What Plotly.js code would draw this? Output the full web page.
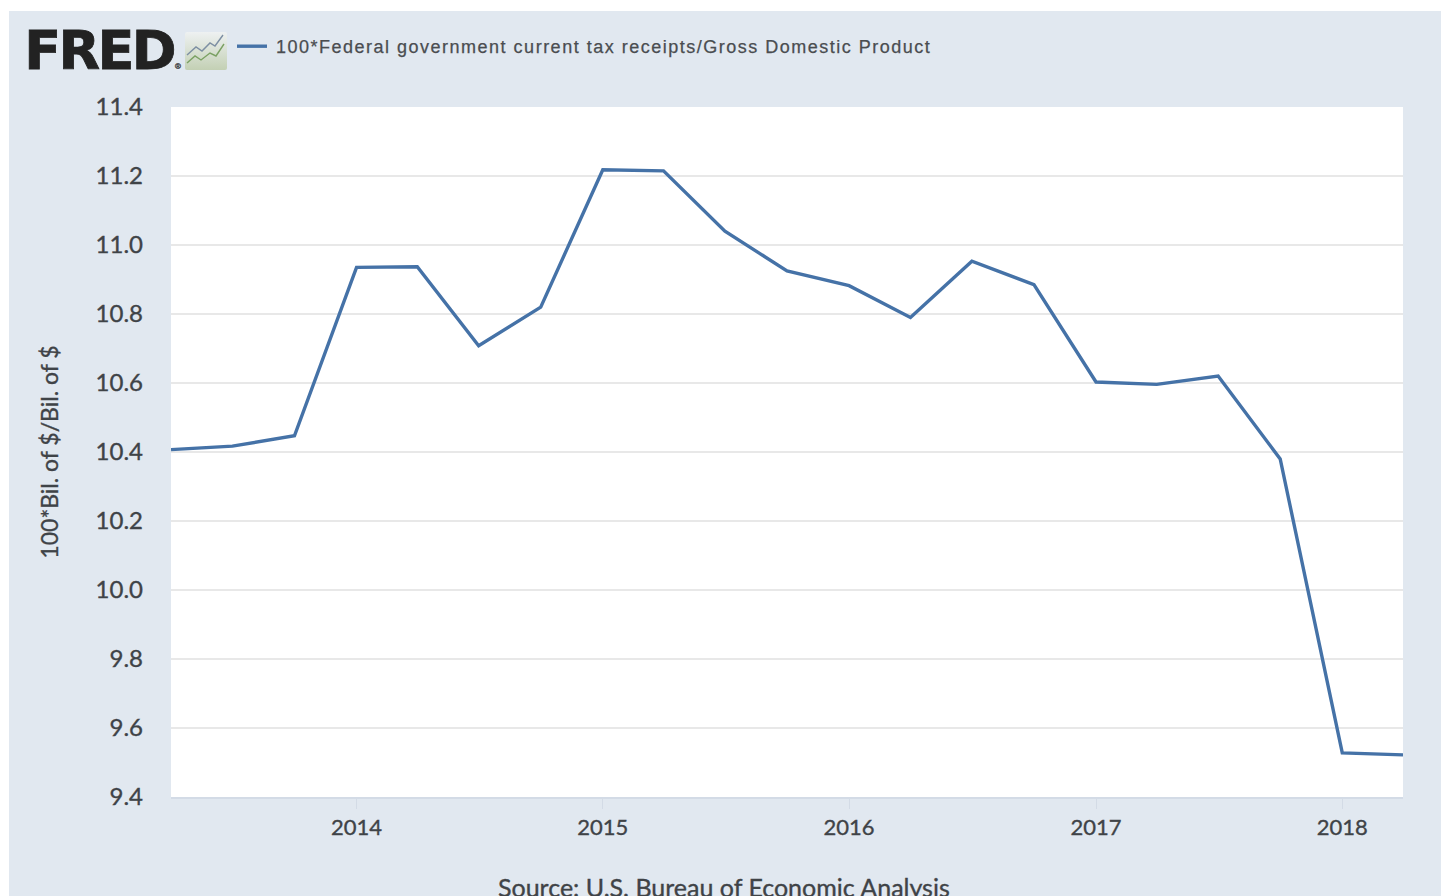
<!DOCTYPE html>
<html><head><meta charset="utf-8">
<script src="https://cdn.plot.ly/plotly-3.0.1.min.js"></script>
<style>html,body{margin:0;padding:0;background:#fff;overflow:hidden}#c{position:absolute;left:0;top:0;width:1446px;height:896px}
.legendtext{letter-spacing:1.5px;transform:translateX(4px);stroke:#4a4d50;stroke-width:.25px}
.xtick text,.ytick text,.ytitle,.annotation-text{stroke:#3f4347;stroke-width:.35px}
g.annotation[data-index="0"] text{letter-spacing:-2.6px;stroke:#222;stroke-width:.8px}</style>
</head><body><div id="c"></div>
<script>
const quarters=["2013-04-01","2013-07-01","2013-10-01","2014-01-01","2014-04-01","2014-07-01","2014-10-01","2015-01-01","2015-04-01","2015-07-01","2015-10-01","2016-01-01","2016-04-01","2016-07-01","2016-10-01","2017-01-01","2017-04-01","2017-07-01","2017-10-01","2018-01-01","2018-04-01"];
const receiptsShare=[10.407,10.417,10.447,10.935,10.937,10.708,10.82,11.218,11.215,11.04,10.925,10.882,10.79,10.953,10.885,10.603,10.596,10.62,10.38,9.528,9.522];
const seriesName="100*Federal government current tax receipts/Gross Domestic Product";
const yTicks=[9.4,9.6,9.8,10.0,10.2,10.4,10.6,10.8,11.0,11.2,11.4];
const xTicks=["2014-01-01","2015-01-01","2016-01-01","2017-01-01","2018-01-01"];
const W=1446,H=896,L=171,T=107,PW=1232,PH=690;
const px=x=>(x-L)/PW, py=y=>(T+PH-y)/PH;
const tickColor="#3f4347";
const icon="data:image/svg+xml;utf8,"+encodeURIComponent('<svg xmlns="http://www.w3.org/2000/svg" width="42" height="38" viewBox="0 0 42 38"><defs><linearGradient id="g" x1="0" y1="0" x2="0" y2="1"><stop offset="0" stop-color="#eef1f2"/><stop offset="1" stop-color="#c3d0b4"/></linearGradient></defs><rect width="42" height="38" rx="2" fill="url(#g)"/><path d="M2 23 L11 15 L17 19 L25 11 L30 14 L38 3" fill="none" stroke="#7d8fa3" stroke-width="1.4"/><path d="M2 31 L10 24 L16 28 L25 21 L31 24 L39 12" fill="none" stroke="#7ba163" stroke-width="1.4"/></svg>');
Plotly.newPlot("c",[{
  x:quarters,y:receiptsShare,name:seriesName,type:"scatter",mode:"lines",
  line:{color:"#4572a7",width:3.4,shape:"linear"},hoverinfo:"x+y"
}],{
  width:W,height:H,autosize:false,
  paper_bgcolor:"#ffffff",plot_bgcolor:"rgba(0,0,0,0)",
  margin:{l:L,r:W-L-PW,t:T,b:H-T-PH,pad:0},
  font:{family:"Lato, sans-serif",color:tickColor},
  showlegend:true,
  legend:{x:px(232),y:py(28),xanchor:"left",yanchor:"top",orientation:"h",bgcolor:"rgba(0,0,0,0)",
    font:{family:"Liberation Sans, sans-serif",size:18,color:"#4a4d50"},itemwidth:30,tracegroupgap:0},
  xaxis:{type:"date",range:["2013-04-01","2018-04-01"],tickmode:"array",tickvals:xTicks,ticktext:["2014","2015","2016","2017","2018"],
    showgrid:false,zeroline:false,showline:true,linecolor:"#d3dbe6",linewidth:1.5,ticks:"outside",ticklen:10,tickwidth:1,tickcolor:"#d3dbe6",
    tickfont:{family:"Lato, sans-serif",size:22,color:tickColor},automargin:false},
  yaxis:{range:[9.4,11.4],tickmode:"array",tickvals:yTicks,ticktext:yTicks.map(v=>v.toFixed(1)),
    showgrid:true,gridcolor:"#e8e8e8",gridwidth:1.2,zeroline:false,showline:false,ticks:"",
    tickfont:{family:"Lato, sans-serif",size:24,color:tickColor},ticklabelstandoff:27,automargin:false,
    title:{text:"100*Bil. of $/Bil. of $",font:{family:"Lato, sans-serif",size:23,color:tickColor},standoff:30}},
  shapes:[{type:"rect",layer:"below",xref:"paper",yref:"paper",x0:px(9),x1:px(1441),y0:py(11),y1:py(H+5),fillcolor:"#e1e8f0",line:{width:0}},
          {type:"rect",layer:"below",xref:"paper",yref:"paper",x0:0,x1:1,y0:0,y1:1,fillcolor:"#ffffff",line:{width:0}}],
  images:[{source:icon,xref:"paper",yref:"paper",x:px(185),y:py(32),sizex:42/PW,sizey:38/PH,xanchor:"left",yanchor:"top",sizing:"stretch",layer:"above"}],
  annotations:[
    {text:"<b>FRED</b>",xref:"paper",yref:"paper",x:px(16.5),y:py(51),xanchor:"left",yanchor:"middle",showarrow:false,font:{family:"DejaVu Sans, sans-serif",size:54,color:"#222222"}},
    {text:"®",xref:"paper",yref:"paper",x:px(178),y:py(67),xanchor:"center",yanchor:"middle",showarrow:false,font:{family:"Liberation Sans, sans-serif",size:8,color:"#222222"}},
    {text:"Source: U.S. Bureau of Economic Analysis",xref:"paper",yref:"paper",x:px(724),y:py(887),xanchor:"center",yanchor:"middle",showarrow:false,font:{family:"Lato, sans-serif",size:25,color:tickColor}}
  ]
},{staticPlot:true,displayModeBar:false});
</script></body></html>
